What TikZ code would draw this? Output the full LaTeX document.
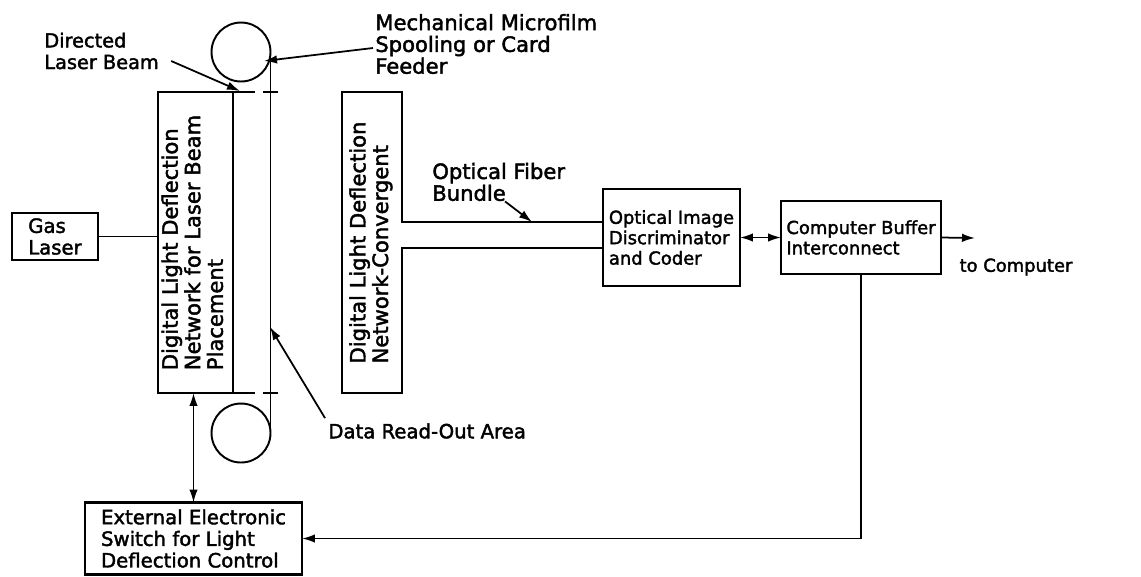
\documentclass[tikz,border=0pt]{standalone}
\usepackage{fontspec}
\setmainfont{DejaVu Sans}[FakeBold=2]
\usepackage{graphicx}
\usetikzlibrary{arrows.meta,calc}

\begin{document}
\begin{tikzpicture}[x=0.02cm, y=-0.02cm,
  box/.style={draw, line width=1.2pt, inner sep=2pt, outer sep=0pt, align=left},
  bigtxt/.style={font=\fontsize{12}{12.4}\selectfont},
  midtxt/.style={font=\fontsize{11.2}{12.3}\selectfont},
  smalltxt/.style={font=\fontsize{10.2}{11.6}\selectfont},
  film/.style={line width=0.9pt},
  arr/.style={line width=1pt, -{Latex[length=2.6mm,width=1.7mm]}},
  darr/.style={line width=1pt, {Latex[length=2.6mm,width=1.7mm]}-{Latex[length=2.6mm,width=1.7mm]}}
]
  \useasboundingbox (0,0) rectangle (1141,576);

  % blocks
  \node[box, midtxt, minimum width=1.72cm, minimum height=0.94cm] (laser) at (55,236.5) {Gas\\Laser};
  \node[box, bigtxt, minimum width=1.5cm, minimum height=6.02cm] (netL) at (195.5,242.5)
    {\rotatebox{90}{\begin{tabular}{@{}l@{}}Digital Light Deflection\\Network for Laser Beam\\Placement\end{tabular}}};
  \node[box, bigtxt, minimum width=1.2cm, minimum height=6.02cm] (netC) at (372,242.5)
    {\rotatebox{90}{\begin{tabular}{@{}l@{}}Digital Light Deflection\\Network-Convergent\end{tabular}}};
  \node[box, smalltxt, minimum width=2.74cm, minimum height=1.94cm] (opt) at (671.5,237.5) {Optical Image\\Discriminator\\and Coder};
  \node[box, smalltxt, minimum width=3.2cm, minimum height=1.46cm] (buf) at (861,237.5) {Computer Buffer\\Interconnect};
  \node[box, midtxt, minimum width=4.34cm, minimum height=1.44cm] (sw) at (193.5,538.5) {External Electronic\\Switch for Light\\Deflection Control};

  % spools and film
  \node[circle, draw, film, line width=1.1pt, minimum size=1.18cm, inner sep=0pt, outer sep=0pt] (spoolT) at (241,52) {};
  \node[circle, draw, film, line width=1.1pt, minimum size=1.18cm, inner sep=0pt, outer sep=0pt] (spoolB) at (241,433) {};
  \draw[film] (spoolT.east) -- (spoolB.east);
  \draw[film, dash pattern=on 12.5pt off 4.5pt] (netL.north east) -- ++(45,0);
  \draw[film, dash pattern=on 12.5pt off 4.5pt] (netL.south east) -- ++(45,0);

  % fiber bundle
  \coordinate (fibT) at ($(opt.west)+(0,-15.5)$);
  \coordinate (fibB) at ($(opt.west)+(0,10.5)$);
  \fill[white] ($(netC.east |- fibT)+(-2,1)$) rectangle ($(netC.east |- fibB)+(2,-1)$);
  \draw[line width=1.2pt] (netC.east |- fibT) -- (fibT);
  \draw[line width=1.2pt] (netC.east |- fibB) -- (fibB);

  % connectors
  \draw[film] (laser.east) -- (laser.east -| netL.west);
  \draw[darr] (opt.east) -- (buf.west);
  \coordinate (outEnd) at (975,238);
  \draw[arr] (buf.east) -- (outEnd);
  \node[smalltxt, inner sep=0pt] (tocomp) at (1016,267) {to Computer};
  \draw[arr] (buf.south) |- (sw.east);
  \draw[darr] (sw.north) -- (sw.north |- netL.south);

  % labels
  \node[font=\fontsize{11}{12.3}\selectfont, align=left, anchor=west, inner sep=0pt] (beam) at (44,51) {Directed\\Laser Beam};
  \coordinate (beamHit) at (240,91);
  \draw[arr] ($(beam.east)+(12,10)$) -- (beamHit);
  \node[bigtxt, align=left, anchor=west, inner sep=0pt] (mech) at (375,44) {Mechanical Microfilm\\Spooling or Card\\Feeder};
  \coordinate (spoolHit) at (264,61);
  \draw[arr] ($(mech.west)+(-2,4)$) -- (spoolHit);
  \node[midtxt, anchor=west, inner sep=0pt] (readout) at (328,431) {Data Read-Out Area};
  \coordinate (readHit) at (270,327);
  \draw[arr] ($(readout.north west)+(-3,-5)$) -- (readHit);
  \node[bigtxt, align=left, anchor=west, inner sep=0pt] (fiber) at (432,182) {Optical Fiber\\Bundle};
  \coordinate (fibHit) at (532,222);
  \draw[arr] ($(fiber.south west)+(73,0)$) -- (fibHit);
\end{tikzpicture}
\end{document}
